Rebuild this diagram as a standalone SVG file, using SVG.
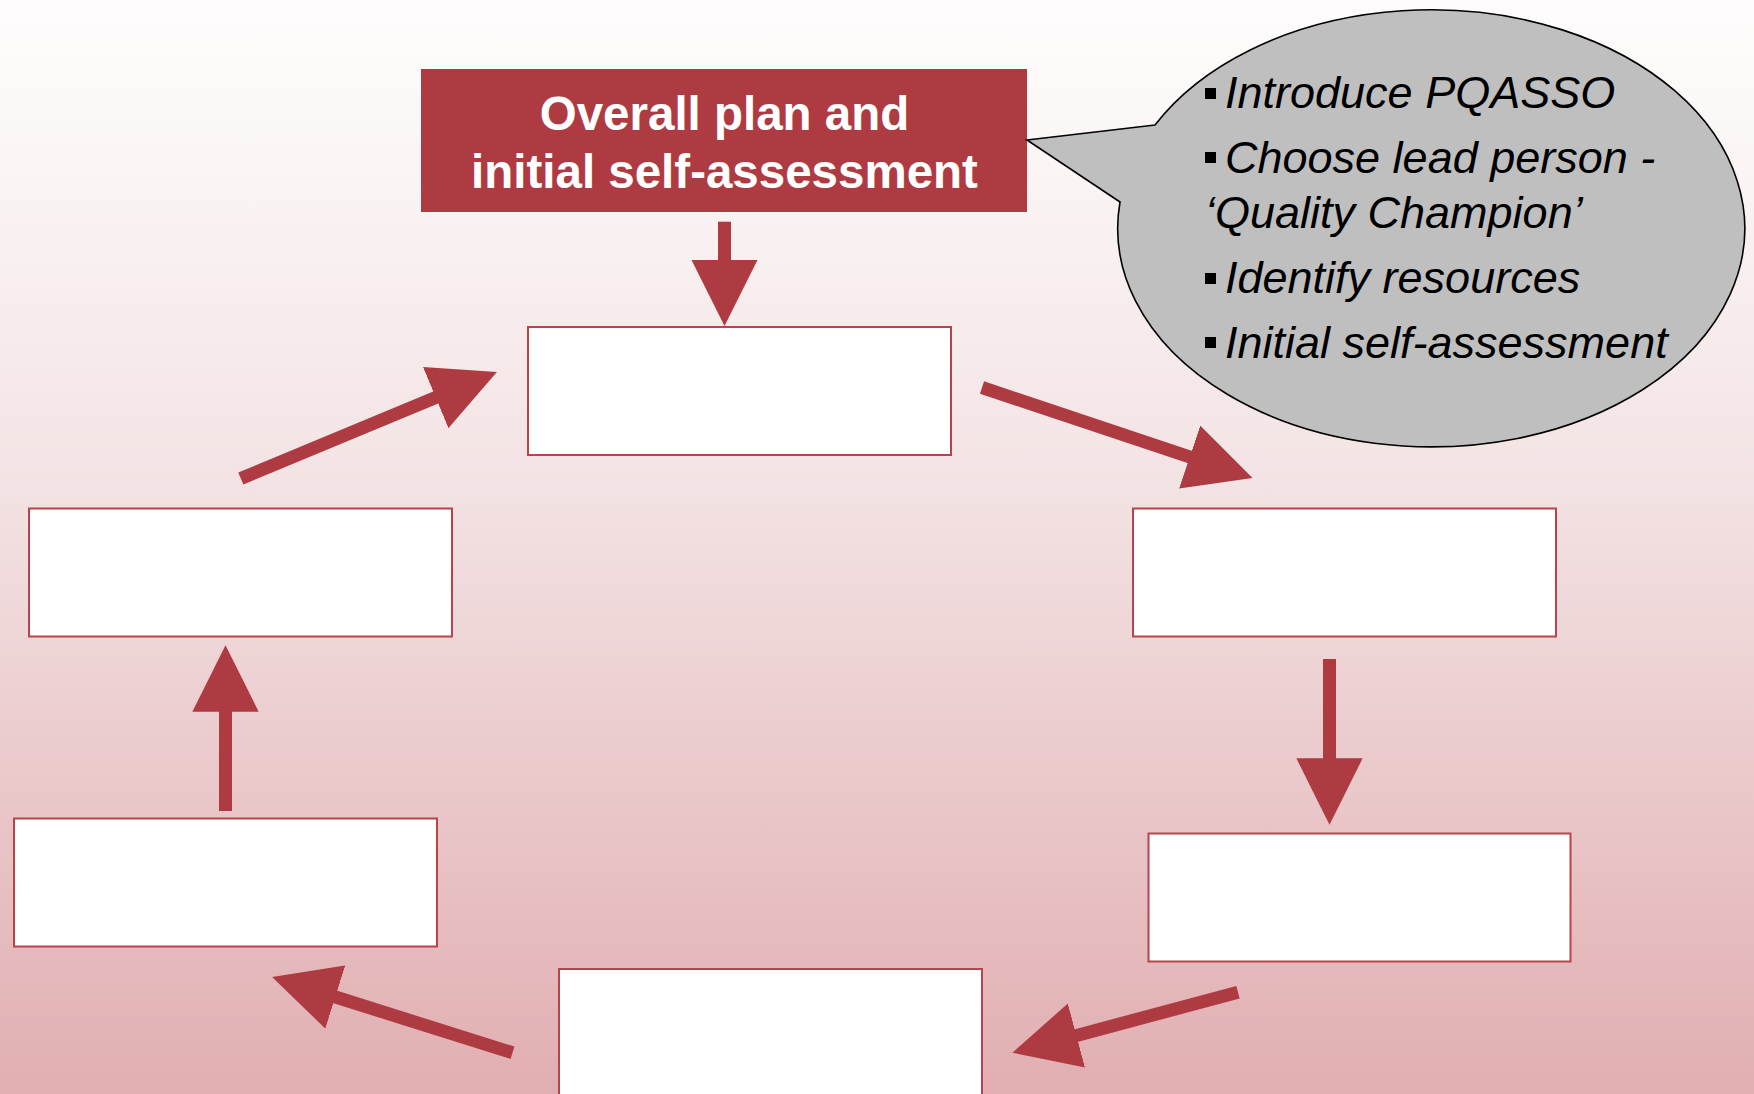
<svg xmlns="http://www.w3.org/2000/svg" width="1754" height="1094" viewBox="0 0 1754 1094">
  <defs>
    <linearGradient id="bg" x1="0" y1="0" x2="0" y2="1">
      <stop offset="0" stop-color="#fefcfc"/>
      <stop offset="0.1" stop-color="#fcf8f8"/>
      <stop offset="0.45" stop-color="#f3e2e3"/>
      <stop offset="0.75" stop-color="#e9c5c7"/>
      <stop offset="1" stop-color="#e1aeb1"/>
    </linearGradient>
    <marker id="ah" markerUnits="strokeWidth" viewBox="0 0 5.1 5.1" refX="0.05" refY="2.55" markerWidth="5.1" markerHeight="5.1" orient="auto">
      <path d="M0,0 L5.1,2.55 L0,5.1 Z" fill="#ae3b42"/>
    </marker>
    <style>
      .box { fill: #ffffff; stroke: #b8434a; stroke-width: 2; }
      .conn { stroke: #ae3b42; stroke-width: 13; fill: none; marker-end: url(#ah); }
      .head { font-family: "Liberation Sans", Arial, sans-serif; font-weight: bold; font-size: 47.5px; fill: #ffffff; text-anchor: middle; }
      .note { font-family: "Liberation Sans", Arial, sans-serif; font-style: italic; font-size: 45px; fill: #000000; }
      .bullet { fill: #000000; }
    </style>
  </defs>

  <rect x="0" y="0" width="1754" height="1094" fill="url(#bg)"/>

  <g id="connectors">
    <line class="conn" x1="724.5" y1="221.7" x2="724.5" y2="260.3"/>
    <line class="conn" x1="982" y1="387.5" x2="1190.3" y2="457.2"/>
    <line class="conn" x1="1329.5" y1="659" x2="1329.5" y2="759"/>
    <line class="conn" x1="1238" y1="992.2" x2="1075.8" y2="1035.7"/>
    <line class="conn" x1="512.5" y1="1052.8" x2="334.7" y2="996.8"/>
    <line class="conn" x1="225.5" y1="811" x2="225.5" y2="711"/>
    <line class="conn" x1="240.8" y1="478.5" x2="436.3" y2="397.3"/>
  </g>

  <g id="node-header">
    <rect x="421" y="69" width="606" height="143" fill="#ae3b42"/>
    <text class="head" x="724.5" y="130">Overall plan and</text>
    <text class="head" x="724.5" y="187.7">initial self-assessment</text>
  </g>

  <g id="callout">
    <path d="M1155,125 L1027,140 L1120,202 A313.5,218.5 0 1 0 1155,125 Z" fill="#bfbfbf" stroke="#000000" stroke-width="1.6"/>
    <rect class="bullet" x="1205" y="88" width="11" height="11"/>
    <text class="note" x="1225" y="108.3">Introduce PQASSO</text>
    <rect class="bullet" x="1205" y="152" width="11" height="11"/>
    <text class="note" x="1225" y="172.7">Choose lead person -</text>
    <text class="note" x="1205" y="228.3">‘Quality Champion’</text>
    <rect class="bullet" x="1205" y="273" width="11" height="11"/>
    <text class="note" x="1225" y="293.3">Identify resources</text>
    <rect class="bullet" x="1205" y="337" width="11" height="11"/>
    <text class="note" x="1225" y="357.7">Initial self-assessment</text>
  </g>

  <g id="node-top">
    <rect class="box" x="528" y="327" width="423" height="128"/>
  </g>
  <g id="node-right">
    <rect class="box" x="1133" y="508.5" width="423" height="128"/>
  </g>
  <g id="node-lower-right">
    <rect class="box" x="1148.5" y="833.5" width="422" height="128"/>
  </g>
  <g id="node-bottom">
    <rect class="box" x="559" y="969" width="423" height="128"/>
  </g>
  <g id="node-lower-left">
    <rect class="box" x="14" y="818.5" width="423" height="128"/>
  </g>
  <g id="node-left">
    <rect class="box" x="29" y="508.5" width="423" height="128"/>
  </g>
</svg>
